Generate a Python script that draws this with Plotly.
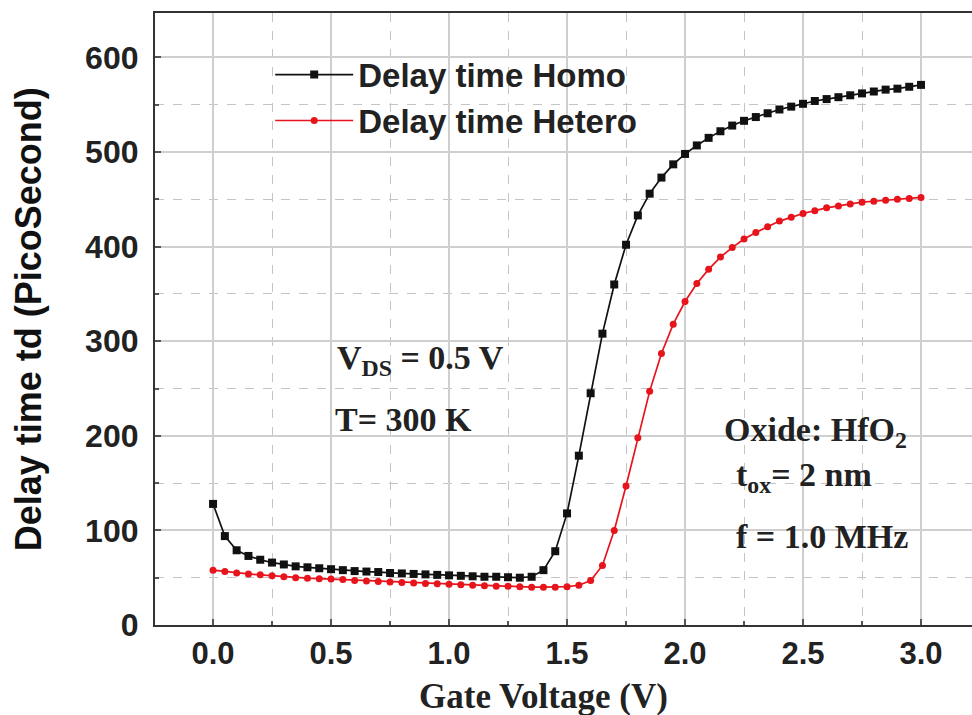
import plotly.graph_objects as go

gate_voltage = [0.00, 0.05, 0.10, 0.15, 0.20, 0.25, 0.30, 0.35, 0.40, 0.45,
                0.50, 0.55, 0.60, 0.65, 0.70, 0.75, 0.80, 0.85, 0.90, 0.95,
                1.00, 1.05, 1.10, 1.15, 1.20, 1.25, 1.30, 1.35, 1.40, 1.45,
                1.50, 1.55, 1.60, 1.65, 1.70, 1.75, 1.80, 1.85, 1.90, 1.95,
                2.00, 2.05, 2.10, 2.15, 2.20, 2.25, 2.30, 2.35, 2.40, 2.45,
                2.50, 2.55, 2.60, 2.65, 2.70, 2.75, 2.80, 2.85, 2.90, 2.95,
                3.00]

delay_homo = [128, 94, 79, 73, 69, 66, 64, 62, 61, 60,
              59, 58, 57, 56.5, 56, 55, 54.5, 54, 53.5, 53,
              52.5, 52, 51.5, 51, 51, 50.5, 50, 51, 58, 78,
              118, 179, 245, 308, 360, 402, 433, 456, 473, 487,
              498, 507, 515, 522, 528, 533, 537, 541, 545, 548,
              551, 554, 556, 558, 560, 562, 564, 566, 567, 569,
              571]

delay_hetero = [58, 56.5, 55, 54, 53, 52, 51, 50, 49.5, 49,
                48.5, 48, 47, 46.5, 46, 45.5, 45, 44.5, 44, 43.5,
                43, 42.5, 42, 41.5, 41, 41, 40.5, 40, 40, 40,
                40.5, 42, 47, 63, 100, 147, 198, 247, 287, 318,
                342, 361, 376, 389, 399, 408, 415, 421, 427, 431,
                435, 438, 441, 443, 445, 447, 448, 449, 450, 451,
                452]

series_names = ["Delay time Homo", "Delay time Hetero"]
x_ticks = [0.0, 0.5, 1.0, 1.5, 2.0, 2.5, 3.0]
x_tick_labels = ["0.0", "0.5", "1.0", "1.5", "2.0", "2.5", "3.0"]
y_ticks = [0, 100, 200, 300, 400, 500, 600]
y_tick_labels = ["0", "100", "200", "300", "400", "500", "600"]

SANS = "Liberation Sans, Arial, sans-serif"
SERIF = "Liberation Serif, Times New Roman, serif"

fig = go.Figure()
fig.add_trace(go.Scatter(
    x=gate_voltage, y=delay_homo, name=series_names[0], mode="lines+markers",
    line=dict(color="#111111", width=1.7),
    marker=dict(symbol="square", size=8, color="#111111"),
))
fig.add_trace(go.Scatter(
    x=gate_voltage, y=delay_hetero, name=series_names[1], mode="lines+markers",
    line=dict(color="#e8141c", width=1.7),
    marker=dict(symbol="circle", size=7, color="#e8141c"),
))

grid_major = "#cfcfcf"
grid_minor = "#c4c4c4"

fig.update_xaxes(
    range=[-0.246, 3.216], tickmode="array", tickvals=x_ticks, ticktext=x_tick_labels,
    showline=True, linecolor="#333333", linewidth=2.2, mirror=True,
    ticks="inside", ticklen=6, tickwidth=2, tickcolor="#555555",
    showgrid=True, gridcolor=grid_major, gridwidth=1.5,
    minor=dict(dtick=0.25, tick0=0, showgrid=True, gridcolor=grid_minor, griddash="dash",
               gridwidth=1, ticks="inside", ticklen=4, tickcolor="#555555"),
    tickfont=dict(family=SANS, size=31, color="#222222", weight="bold"),
    zeroline=False, ticklabelstandoff=0,
)
fig.update_yaxes(
    range=[0, 647], tickmode="array", tickvals=y_ticks, ticktext=y_tick_labels,
    showline=True, linecolor="#333333", linewidth=2.2, mirror=False,
    ticks="inside", ticklen=6, tickwidth=2, tickcolor="#555555",
    showgrid=True, gridcolor=grid_major, gridwidth=1.5,
    minor=dict(dtick=50, tick0=0, showgrid=True, gridcolor=grid_minor, griddash="dash",
               gridwidth=1, ticks="inside", ticklen=4, tickcolor="#555555"),
    tickfont=dict(family=SANS, size=32, color="#222222", weight="bold"),
    zeroline=False, ticklabelstandoff=8,
)

ann_font = dict(family=SERIF, size=34, color="#222222", weight="bold")
annotations = [
    dict(text="Delay time td (PicoSecond)", xref="paper", yref="paper", x=-0.155, y=0.5,
         textangle=-90, showarrow=False, xanchor="center", yanchor="middle",
         font=dict(family=SANS, size=36, color="#111111", weight="bold")),
    dict(text="Gate Voltage (V)", xref="paper", yref="paper", x=0.476, y=-0.117,
         showarrow=False, xanchor="center", yanchor="middle",
         font=dict(family=SERIF, size=35, color="#222222", weight="bold")),
    dict(text="V<sub>DS</sub> = 0.5 V", xref="paper", yref="paper", x=0.220, y=0.433,
         showarrow=False, xanchor="left", yanchor="middle", font=ann_font),
    dict(text="T= 300 K", xref="paper", yref="paper", x=0.218, y=0.335,
         showarrow=False, xanchor="left", yanchor="middle", font=ann_font),
    dict(text="Oxide: HfO<sub>2</sub>", xref="paper", yref="paper", x=0.694, y=0.315,
         showarrow=False, xanchor="left", yanchor="middle", font=ann_font),
    dict(text="t<sub>ox</sub>= 2 nm", xref="paper", yref="paper", x=0.709, y=0.242,
         showarrow=False, xanchor="left", yanchor="middle", font=ann_font),
    dict(text="f = 1.0 MHz", xref="paper", yref="paper", x=0.709, y=0.144,
         showarrow=False, xanchor="left", yanchor="middle", font=ann_font),
]

fig.update_layout(
    width=972, height=715,
    margin=dict(l=155, r=0, t=13, b=90),
    paper_bgcolor="white", plot_bgcolor="white",
    showlegend=True,
    legend=dict(x=0.141, y=0.945, xanchor="left", yanchor="top",
                bgcolor="rgba(0,0,0,0)", borderwidth=0, itemwidth=78,
                font=dict(family=SANS, size=33, color="#222222", weight="bold"),
                tracegroupgap=0),
    annotations=annotations,
)

fig.write_html("out.html")
